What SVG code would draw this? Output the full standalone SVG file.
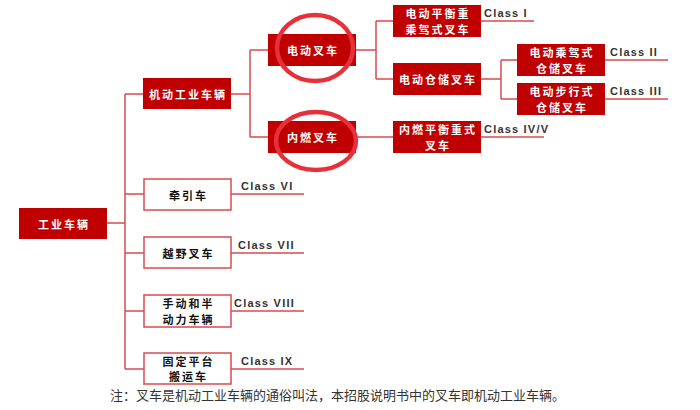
<svg xmlns="http://www.w3.org/2000/svg" width="700" height="410" viewBox="0 0 700 410">
<style>
.rb{fill:#c00000;}
.wb{fill:#fff;stroke:#d9494c;stroke-width:1.5;}
.tw{fill:#fff;font-family:"Noto Sans CJK SC",sans-serif;font-weight:700;font-size:11px;letter-spacing:2px;text-anchor:middle;dominant-baseline:central;}
.tk{fill:#111;font-family:"Noto Sans CJK SC",sans-serif;font-weight:700;font-size:11px;letter-spacing:2px;text-anchor:middle;dominant-baseline:central;}
.cl{fill:#333;font-family:"Liberation Sans",Arial,sans-serif;font-weight:700;font-size:11px;letter-spacing:1.2px;}
.ln{stroke:#d9494c;stroke-width:1.5;fill:none;}
.ring{fill:none;stroke:#e8303a;stroke-width:4.5;}
.note{fill:#333;font-family:"Noto Sans CJK SC",serif;font-size:13px;}
</style>
<rect width="700" height="410" fill="#fff"/>
<g id="connectors">
<path class="ln" d="M107,223H125M125,94V369M125,94H143M125,194H144M125,253H144M125,311H144M125,369H144"/>
<path class="ln" d="M231,94H250M250,50V137M250,50H268M250,137H268"/>
<path class="ln" d="M356,50H376M376,21V79M376,21H393M376,79H393"/>
<path class="ln" d="M481,79H501M501,60V99M501,60H517M501,99H517"/>
<path class="ln" d="M356,137H393"/>
<path class="ln" d="M481,21H534M605,60H668M605,99H668M481,137H544"/>
<path class="ln" d="M231,194H304M231,253H304M231,311H304M231,369H304"/>
</g>
<g id="root"><rect class="rb" x="19" y="208" width="88" height="31"/><text class="tw" x="64" y="223.5">工业车辆</text></g>
<g id="jidong"><rect class="rb" x="143" y="78" width="88" height="31"/><text class="tw" x="188" y="93.5">机动工业车辆</text></g>
<g id="diandong"><rect class="rb" x="268" y="34" width="88" height="32"/><text class="tw" x="313" y="50">电动叉车</text></g>
<g id="neiran"><rect class="rb" x="268" y="121" width="88" height="32"/><text class="tw" x="313" y="137">内燃叉车</text></g>
<g id="n1"><rect class="rb" x="393" y="5" width="88" height="32"/><text class="tw" x="438" y="13">电动平衡重</text><text class="tw" x="438" y="29">乘驾式叉车</text></g>
<g id="n2"><rect class="rb" x="393" y="63" width="88" height="32"/><text class="tw" x="438" y="79">电动仓储叉车</text></g>
<g id="n3"><rect class="rb" x="517" y="44" width="88" height="32"/><text class="tw" x="562" y="52">电动乘驾式</text><text class="tw" x="562" y="68">仓储叉车</text></g>
<g id="n4"><rect class="rb" x="517" y="83" width="88" height="32"/><text class="tw" x="562" y="91">电动步行式</text><text class="tw" x="562" y="107">仓储叉车</text></g>
<g id="n5"><rect class="rb" x="393" y="121" width="88" height="32"/><text class="tw" x="438" y="129">内燃平衡重式</text><text class="tw" x="438" y="145">叉车</text></g>
<g id="w1"><rect class="wb" x="144" y="179" width="87" height="31"/><text class="tk" x="188.5" y="194.5">牵引车</text></g>
<g id="w2"><rect class="wb" x="144" y="237" width="87" height="31"/><text class="tk" x="188.5" y="252.5">越野叉车</text></g>
<g id="w3"><rect class="wb" x="144" y="295" width="87" height="32"/><text class="tk" x="188.5" y="303">手动和半</text><text class="tk" x="188.5" y="319">动力车辆</text></g>
<g id="w4"><rect class="wb" x="144" y="353" width="87" height="31"/><text class="tk" x="188.5" y="360.5">固定平台</text><text class="tk" x="188.5" y="375.5">搬运车</text></g>
<g id="labels">
<text class="cl" x="484" y="17">Class I</text>
<text class="cl" x="610" y="56">Class II</text>
<text class="cl" x="610" y="95">Class III</text>
<text class="cl" x="484" y="133">Class IV/V</text>
<text class="cl" x="241" y="190">Class VI</text>
<text class="cl" x="238" y="249">Class VII</text>
<text class="cl" x="234" y="307">Class VIII</text>
<text class="cl" x="241" y="365">Class IX</text>
</g>
<g id="highlights">
<ellipse class="ring" cx="315" cy="48" rx="38" ry="33"/>
<ellipse class="ring" cx="316" cy="141" rx="40" ry="29"/>
</g>
<text class="note" x="110" y="400">注：叉车是机动工业车辆的通俗叫法，本招股说明书中的叉车即机动工业车辆。</text>
</svg>
